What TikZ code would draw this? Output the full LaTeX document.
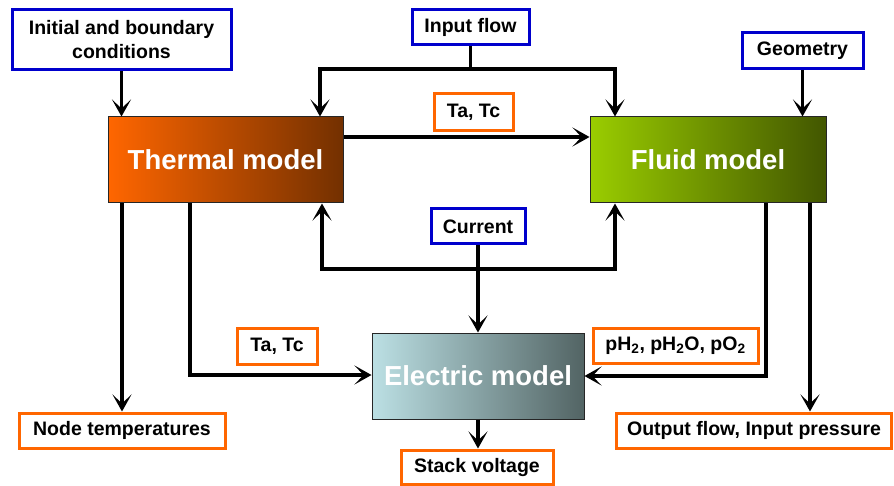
\documentclass[tikz,border=0pt]{standalone}
\usepackage{fontspec}
\setmainfont{Liberation Sans}
\usetikzlibrary{arrows.meta}
\definecolor{bluebd}{HTML}{0000CC}
\definecolor{orangebd}{HTML}{FF6600}
\definecolor{thL}{HTML}{FF6600}
\definecolor{thR}{HTML}{733000}
\definecolor{flL}{HTML}{9ACD00}
\definecolor{flR}{HTML}{425600}
\definecolor{elL}{HTML}{BCE0E4}
\definecolor{elR}{HTML}{526464}
\begin{document}
\begin{tikzpicture}[x=1pt,y=-1pt,
  lbl/.style={draw,line width=3pt,fill=white,inner sep=0pt,align=center,
    font=\fontsize{19.5}{24}\selectfont\bfseries},
  inbox/.style={lbl,draw=bluebd},
  outbox/.style={lbl,draw=orangebd},
  model/.style={draw=black!85,line width=1pt,inner sep=0pt,text=white,
    font=\fontsize{27.5}{32}\selectfont\bfseries,shading=axis,shading angle=90},
  conn/.style={line width=3.4pt},
  arr/.style={conn,-{Stealth[length=17pt,width=19pt,inset=9pt]}},
  darr/.style={conn,{Stealth[length=17pt,width=19pt,inset=9pt]}-{Stealth[length=17pt,width=19pt,inset=9pt]}}
]
\useasboundingbox (0,0) rectangle (894,486);
\fill[white] (0,0) rectangle (894,486);

% model boxes
\node[model,minimum width=235pt,minimum height=86pt,left color=thL,right color=thR] (thermal) at (225.5,160) {Thermal model};
\node[model,minimum width=236pt,minimum height=86pt,left color=flL,right color=flR] (fluid) at (708,160) {Fluid model};
\node[model,minimum width=212pt,minimum height=86pt,left color=elL,right color=elR] (electric) at (478,376) {Electric model};

% input boxes
\node[inbox,minimum width=219pt,minimum height=60pt] (init) at (121.5,40) {Initial and boundary\\conditions};
\node[inbox,minimum width=117pt,minimum height=35pt] (inflow) at (470.5,27.5) {Input flow};
\node[inbox,minimum width=121pt,minimum height=36pt] (geom) at (802.5,51) {Geometry};
\node[inbox,minimum width=94pt,minimum height=35pt] (current) at (478,226.5) {Current};

% output / exchange boxes
\node[outbox,minimum width=79pt,minimum height=37pt] (tatc1) at (473.5,112.5) {Ta, Tc};
\node[outbox,minimum width=80pt,minimum height=36pt] (tatc2) at (277,346) {Ta, Tc};
\node[outbox,minimum width=165pt,minimum height=35pt] (ph) at (675.5,345.5) {pH\textsubscript{2}, pH\textsubscript{2}O, pO\textsubscript{2}};
\node[outbox,minimum width=206pt,minimum height=35pt] (nodetemp) at (122,430.5) {Node temperatures};
\node[outbox,minimum width=152pt,minimum height=34pt] (stack) at (477,467) {Stack voltage};
\node[outbox,minimum width=275pt,minimum height=35pt] (outflow) at (754,430.5) {Output flow, Input pressure};

% helper coordinates
\coordinate (tl) at (320,69);
\coordinate (tr) at (615,69);
\coordinate (cl) at (322,269);
\coordinate (cr) at (615,269);
\coordinate (tf) at (343,137);
\coordinate (t1) at (190,375);
\coordinate (f1) at (766,376);
\coordinate (nt) at (122,0);
\coordinate (of) at (810,0);

% connectors
\draw[arr] (init.south) -- (init.south |- thermal.north);
\draw[conn] (inflow.south) -- (inflow.south |- tl);
\draw[darr] (thermal.north -| tl) -- (tl) -- (tr) -- (fluid.north -| tr);
\draw[arr] (thermal.east |- tf) -- (fluid.west |- tf);
\draw[arr] (geom.south) -- (geom.south |- fluid.north);
\draw[darr] (thermal.south -| cl) -- (cl) -- (cr) -- (fluid.south -| cr);
\draw[arr] (current.south) -- (current.south |- electric.north);
\draw[arr] (thermal.south -| nt) -- (nodetemp.north -| nt);
\draw[arr] (thermal.south -| t1) -- (t1) -- (electric.west |- t1);
\draw[arr] (fluid.south -| f1) -- (f1) -- (electric.east |- f1);
\draw[arr] (fluid.south -| of) -- (outflow.north -| of);
\draw[arr] (electric.south) -- (electric.south |- stack.north);
\end{tikzpicture}
\end{document}
